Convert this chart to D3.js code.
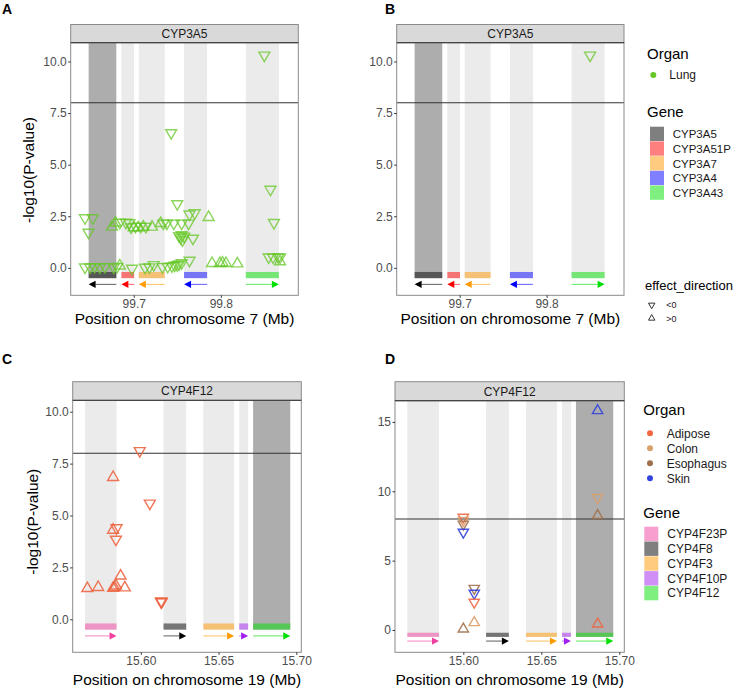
<!DOCTYPE html>
<html><head><meta charset="utf-8">
<script src="https://cdn.jsdelivr.net/npm/d3@7"></script>
<style>
body{margin:0;background:#fff}
text{font-family:"Liberation Sans",Arial,Helvetica,sans-serif}
</style>
</head><body>
<svg id="chart" width="740" height="688"></svg>
<script>
// ---------------- DATA ----------------
// Chromosome 7 region (panels A, B)
const genes7 = ["CYP3A5","CYP3A51P","CYP3A7","CYP3A4","CYP3A43"];
const genes7Start = [99.6482, 99.6858, 99.7058, 99.7578, 99.8287];
const genes7End   = [99.6800, 99.7004, 99.7356, 99.7843, 99.8667];
const genes7Strand = [-1, -1, -1, -1, 1];
const genes7Color = ["#000000", "#FF0000", "#FF9A00", "#0000FF", "#00E000"];

// Chromosome 19 region (panels C, D)
const genes19 = ["CYP4F23P","CYP4F8","CYP4F3","CYP4F10P","CYP4F12"];
const genes19Start = [15.5641, 15.6146, 15.6402, 15.6633, 15.6722];
const genes19End   = [15.5844, 15.6292, 15.6600, 15.6690, 15.6961];
const genes19Strand = [1, 1, 1, 1, 1];
const genes19Color = ["#F0409F", "#000000", "#FF9A00", "#A020F0", "#00E000"];

const organs7 = ["Lung"];
const organs19 = ["Adipose","Colon","Esophagus","Skin"];
const organColor = {Lung:"#66C726", Adipose:"#EE6644", Colon:"#D9A06A", Esophagus:"#A0704C", Skin:"#3344DD"};
const directions = ["<0", ">0"];

// Panel A: all Lung eQTL points
const aPos = [99.850,99.743,99.857,99.750,99.861,99.644,99.653,99.648,99.675,99.679,99.684,99.691,99.695,99.697,99.700,99.702,99.705,99.708,99.711,99.714,99.721,99.731,99.734,99.738,99.746,99.755,99.763,99.764,99.770,99.786,99.752,99.754,99.756,99.758,99.755,99.768,
  99.644,99.650,99.655,99.661,99.667,99.677,99.681,99.684,99.698,99.713,99.718,99.723,99.733,99.739,99.744,99.747,99.750,99.752,99.755,99.764,99.790,99.799,99.802,99.806,99.819,99.855,99.860,99.866,99.868,99.868];
const aLogP = [10.30,6.54,3.80,3.10,2.19,2.42,2.42,1.72,1.98,2.18,2.20,2.20,2.18,1.98,1.95,2.00,1.95,2.00,1.98,2.00,1.98,2.16,2.16,2.16,2.16,2.16,2.16,2.60,2.66,2.45,1.55,1.45,1.35,1.52,1.60,1.43,
  0.03,0.03,0.05,0.03,0.05,0.03,0.06,0.10,-0.03,0.02,0.04,0.15,0.05,0.06,0.09,0.12,0.14,0.18,0.24,0.36,0.22,0.22,0.24,0.22,0.20,0.52,0.52,0.52,0.30,0.52];
const aDir = ["<0","<0","<0","<0","<0","<0","<0","<0",">0",">0","<0","<0","<0","<0",">0","<0",">0","<0",">0","<0",">0",">0","<0","<0","<0","<0","<0","<0","<0",">0","<0","<0","<0","<0","<0","<0",
  "<0","<0","<0","<0","<0","<0","<0",">0","<0","<0","<0","<0","<0","<0","<0","<0","<0","<0","<0","<0",">0",">0",">0",">0",">0","<0","<0","<0",">0","<0"];

// Panel B: significant Lung eQTL
const bPos = [99.850];
const bLogP = [10.30];
const bDir = ["<0"];

// Panel C: Adipose eQTL
const cPos = [15.5993,15.5822,15.6058,15.5822,15.5844,15.5840,15.5870,15.5656,15.5726,15.5822,15.5840,15.5830,15.5897,15.6130,15.6132,15.6134];
const cLogP = [8.12,6.84,5.59,4.30,4.40,3.85,2.09,1.49,1.54,1.50,1.62,1.55,1.52,0.87,0.83,0.85];
const cDir = ["<0",">0","<0",">0","<0","<0",">0",">0",">0",">0",">0",">0",">0","<0","<0","<0"];

// Panel D: multi-tissue eQTL
const dPos = [15.6861,15.6861,15.6861,15.6861,15.6000,15.6000,15.6000,15.6000,15.6000,15.6070,15.6070,15.6070,15.6070];
const dLogP = [15.81,9.55,8.25,0.43,8.13,7.90,7.63,7.05,0.07,3.00,2.65,2.00,0.53];
const dDir = [">0","<0",">0",">0","<0","<0","<0","<0",">0","<0","<0","<0",">0"];
const dOrgan = ["Skin","Colon","Esophagus","Adipose","Adipose","Colon","Esophagus","Skin","Esophagus","Esophagus","Skin","Adipose","Colon"];

const ticks7 = [99.7, 99.8];
const ticks19 = [15.60, 15.65, 15.70];
const yTicksAC = [0, 2.5, 5, 7.5, 10];
const yTicksD = [0, 5, 10, 15];
const threshold = 8;

// ---------------- DRAW ----------------
const svg = d3.select("#chart");
const FONT = '"Liberation Sans",Arial,Helvetica,sans-serif';

function makeGenes(names, st, en, strand, col){
  return names.map((n,i)=>({name:n,start:st[i],end:en[i],strand:strand[i],color:col[i]}));
}
const g7 = makeGenes(genes7, genes7Start, genes7End, genes7Strand, genes7Color);
const g19 = makeGenes(genes19, genes19Start, genes19End, genes19Strand, genes19Color);

function drawPanel(cfg){
  const x = d3.scaleLinear().domain(cfg.xDomain).range([cfg.left, cfg.right]);
  const y = d3.scaleLinear().domain(cfg.yDomain).range([cfg.bottom, cfg.stripBottom]);
  const g = svg.append("g");
  const clipId = "clip" + cfg.id;
  svg.append("defs").append("clipPath").attr("id", clipId)
    .append("rect").attr("x", cfg.left).attr("y", cfg.stripBottom)
    .attr("width", cfg.right-cfg.left).attr("height", cfg.bottom-cfg.stripBottom);
  const inner = g.append("g").attr("clip-path", `url(#${clipId})`);
  inner.append("rect").attr("x", cfg.left).attr("y", cfg.stripBottom)
    .attr("width", cfg.right-cfg.left).attr("height", cfg.bottom-cfg.stripBottom).attr("fill","#fff");
  // gene bands
  inner.selectAll(".band").data(cfg.genes).join("rect")
    .attr("x", d=>x(d.start)).attr("width", d=>x(d.end)-x(d.start))
    .attr("y", cfg.stripBottom).attr("height", d=>y(-0.5)-cfg.stripBottom)
    .attr("fill", d=>d.name===cfg.focal ? "#ADADAD" : "#EBEBEB");
  // threshold line
  inner.append("line").attr("x1", cfg.left).attr("x2", cfg.right)
    .attr("y1", y(threshold)).attr("y2", y(threshold))
    .attr("stroke","#333").attr("stroke-width",1.1);
  // gene bars
  inner.selectAll(".gbar").data(cfg.genes).join("rect")
    .attr("x", d=>x(d.start)).attr("width", d=>x(d.end)-x(d.start))
    .attr("y", y(-0.2)).attr("height", y(-0.5)-y(-0.2))
    .attr("fill", d=>d.color).attr("fill-opacity",0.5);
  // arrows
  const ay = y(-0.8), hl = 7, hh = 3.6;
  cfg.genes.forEach(d=>{
    const x0 = x(d.start), x1 = x(d.end);
    if(d.strand>0){
      inner.append("line").attr("x1",x0).attr("x2",x1-hl).attr("y1",ay).attr("y2",ay)
        .attr("stroke",d.color).attr("stroke-width",0.8).attr("stroke-opacity",0.8);
      inner.append("path").attr("d",`M${x1},${ay}L${x1-hl},${ay-hh}L${x1-hl},${ay+hh}Z`).attr("fill",d.color);
    } else {
      inner.append("line").attr("x1",x0+hl).attr("x2",x1).attr("y1",ay).attr("y2",ay)
        .attr("stroke",d.color).attr("stroke-width",0.8).attr("stroke-opacity",0.8);
      inner.append("path").attr("d",`M${x0},${ay}L${x0+hl},${ay-hh}L${x0+hl},${ay+hh}Z`).attr("fill",d.color);
    }
  });
  // points
  const tri = d3.symbol(d3.symbolTriangle, cfg.symSize)();
  inner.selectAll(".pt").data(cfg.points).join("path")
    .attr("d", tri)
    .attr("transform", d=>`translate(${x(d.x)},${y(d.y)})` + (d.dir==="<0" ? " rotate(180)" : ""))
    .attr("fill","none").attr("stroke", d=>d.color)
    .attr("stroke-width", 1.4).attr("stroke-opacity", cfg.ptOpacity);
  // panel border
  g.append("rect").attr("x", cfg.left).attr("y", cfg.stripBottom)
    .attr("width", cfg.right-cfg.left).attr("height", cfg.bottom-cfg.stripBottom)
    .attr("fill","none").attr("stroke","#8A8A8A").attr("stroke-width",1);
  // strip
  g.append("rect").attr("x", cfg.left).attr("y", cfg.stripTop)
    .attr("width", cfg.right-cfg.left).attr("height", cfg.stripBottom-cfg.stripTop)
    .attr("fill","#D9D9D9").attr("stroke","#8A8A8A").attr("stroke-width",1);
  g.append("line").attr("x1",cfg.left).attr("x2",cfg.right).attr("y1",cfg.stripBottom).attr("y2",cfg.stripBottom)
    .attr("stroke","#333").attr("stroke-width",1);
  g.append("text").attr("x",(cfg.left+cfg.right)/2).attr("y",(cfg.stripTop+cfg.stripBottom)/2+4.3)
    .attr("text-anchor","middle").attr("font-size",12).attr("fill","#1A1A1A").text(cfg.strip);
  // axes
  const ax = g.append("g").attr("transform",`translate(0,${cfg.bottom})`)
    .call(d3.axisBottom(x).tickValues(cfg.xTicks).tickFormat(cfg.xFmt).tickSize(2.5).tickPadding(1.5));
  const ayx = g.append("g").attr("transform",`translate(${cfg.left},0)`)
    .call(d3.axisLeft(y).tickValues(cfg.yTicks).tickFormat(cfg.yFmt).tickSize(2.5).tickPadding(1.5));
  [ax, ayx].forEach(a=>{
    a.select(".domain").remove();
    a.selectAll(".tick line").attr("stroke","#333");
    a.selectAll(".tick text").attr("fill","#4D4D4D").attr("font-size",12).attr("font-family",FONT);
  });
  // titles
  g.append("text").attr("x",(cfg.left+cfg.right)/2).attr("y",cfg.xTitleY)
    .attr("text-anchor","middle").attr("font-size",15.5).attr("fill","#000").text(cfg.xTitle);
  if(cfg.yTitle){
    g.append("text").attr("transform",`translate(${cfg.yTitleX},${cfg.yTitleYc}) rotate(-90)`)
      .attr("text-anchor","middle").attr("dy","0.35em").attr("font-size",15.5).attr("fill","#000").text(cfg.yTitle);
  }
  g.append("text").attr("x",cfg.labelX).attr("y",cfg.labelY).attr("font-size",14).attr("font-weight","bold")
    .attr("fill","#000").text(cfg.label);
}

const fmt1 = d3.format(".1f"), fmt2 = d3.format(".2f"), fmt0 = d3.format("d");
const dom7 = [99.6276, 99.889];
const dom19 = [15.5562, 15.7032];

drawPanel({id:"A", left:70.7, right:298.3, stripTop:24.5, stripBottom:42.7, bottom:295.3,
  xDomain:dom7, yDomain:[-1.33,10.91], xTicks:ticks7, xFmt:fmt1, yTicks:yTicksAC, yFmt:fmt1,
  strip:"CYP3A5", genes:g7, focal:"CYP3A5", symSize:52, ptOpacity:0.75,
  points:aPos.map((p,i)=>({x:p,y:aLogP[i],dir:aDir[i],color:organColor.Lung})),
  xTitle:"Position on chromosome 7 (Mb)", xTitleY:324, yTitle:"-log10(P-value)", yTitleX:29, yTitleYc:170,
  label:"A", labelX:2, labelY:14});
drawPanel({id:"B", left:396.7, right:624, stripTop:24.5, stripBottom:42.7, bottom:295.3,
  xDomain:dom7, yDomain:[-1.33,10.91], xTicks:ticks7, xFmt:fmt1, yTicks:yTicksAC, yFmt:fmt1,
  strip:"CYP3A5", genes:g7, focal:"CYP3A5", symSize:52, ptOpacity:0.75,
  points:bPos.map((p,i)=>({x:p,y:bLogP[i],dir:bDir[i],color:organColor.Lung})),
  xTitle:"Position on chromosome 7 (Mb)", xTitleY:324, yTitle:null,
  label:"B", labelX:385, labelY:14});
drawPanel({id:"C", left:72.7, right:301.3, stripTop:381.7, stripBottom:400.3, bottom:652.3,
  xDomain:dom19, yDomain:[-1.59,10.55], xTicks:ticks19, xFmt:fmt2, yTicks:yTicksAC, yFmt:fmt1,
  strip:"CYP4F12", genes:g19, focal:"CYP4F12", symSize:52, ptOpacity:0.9,
  points:cPos.map((p,i)=>({x:p,y:cLogP[i],dir:cDir[i],color:organColor.Adipose})),
  xTitle:"Position on chromosome 19 (Mb)", xTitleY:684.5, yTitle:"-log10(P-value)", yTitleX:33, yTitleYc:521.7,
  label:"C", labelX:2, labelY:364});
drawPanel({id:"D", left:395, right:624.3, stripTop:381.7, stripBottom:400.7, bottom:652.3,
  xDomain:dom19, yDomain:[-1.61,16.53], xTicks:ticks19, xFmt:fmt2, yTicks:yTicksD, yFmt:fmt0,
  strip:"CYP4F12", genes:g19, focal:"CYP4F12", symSize:46, ptOpacity:0.9,
  points:dPos.map((p,i)=>({x:p,y:dLogP[i],dir:dDir[i],color:organColor[dOrgan[i]]})),
  xTitle:"Position on chromosome 19 (Mb)", xTitleY:684.5, yTitle:null,
  label:"D", labelX:385, labelY:364});

// ---------------- LEGENDS ----------------
function legend(cfg){
  const g = svg.append("g");
  g.append("text").attr("x",cfg.x).attr("y",cfg.organTitleY).attr("font-size",15).attr("fill","#000").text("Organ");
  cfg.organs.forEach((o,i)=>{
    const cy = cfg.organY0 + i*cfg.organStep;
    g.append("circle").attr("cx",cfg.dotX).attr("cy",cy).attr("r",3).attr("fill",organColor[o]);
    g.append("text").attr("x",cfg.organTextX).attr("y",cy+4.3).attr("font-size",12).attr("fill","#1A1A1A").text(o);
  });
  g.append("text").attr("x",cfg.x).attr("y",cfg.geneTitleY).attr("font-size",15).attr("fill","#000").text("Gene");
  cfg.genes.forEach((d,i)=>{
    const yy = cfg.geneY0 + i*cfg.geneStep;
    g.append("rect").attr("x",cfg.swX).attr("y",yy).attr("width",14).attr("height",cfg.geneStep-0.4)
      .attr("fill",d.color).attr("fill-opacity",0.5);
    g.append("text").attr("x",cfg.geneTextX).attr("y",yy+cfg.geneStep/2+4.1).attr("font-size",cfg.geneFont)
      .attr("fill","#1A1A1A").text(d.name);
  });
  if(cfg.dir){
    g.append("text").attr("x",cfg.dirX).attr("y",cfg.dirTitleY).attr("font-size",13).attr("fill","#000").text("effect_direction");
    const tri = d3.symbol(d3.symbolTriangle, 18)();
    directions.forEach((dv,i)=>{
      const yy = cfg.dirY0 + i*13.3;
      g.append("path").attr("d",tri).attr("transform",`translate(${cfg.dirSymX},${yy})`+(dv==="<0"?" rotate(180)":""))
        .attr("fill","none").attr("stroke","#333").attr("stroke-width",1);
      g.append("text").attr("x",cfg.dirSymX+14.5).attr("y",yy+3.2).attr("font-size",9).attr("fill","#1A1A1A").text(dv);
    });
  }
}
legend({x:647, organTitleY:59, organs:organs7, organY0:75, organStep:15, dotX:653.3, organTextX:669.3,
  geneTitleY:117, genes:g7, geneY0:126.7, geneStep:14.7, swX:650, geneTextX:672.7, geneFont:11.5,
  dir:true, dirX:645, dirTitleY:290, dirY0:305, dirSymX:651.7});
legend({x:643.3, organTitleY:415.3, organs:organs19, organY0:433.3, organStep:15, dotX:650, organTextX:666.7,
  geneTitleY:518, genes:g19, geneY0:526.7, geneStep:14.8, swX:644.3, geneTextX:667.3, geneFont:12,
  dir:false});
</script>
</body></html>
